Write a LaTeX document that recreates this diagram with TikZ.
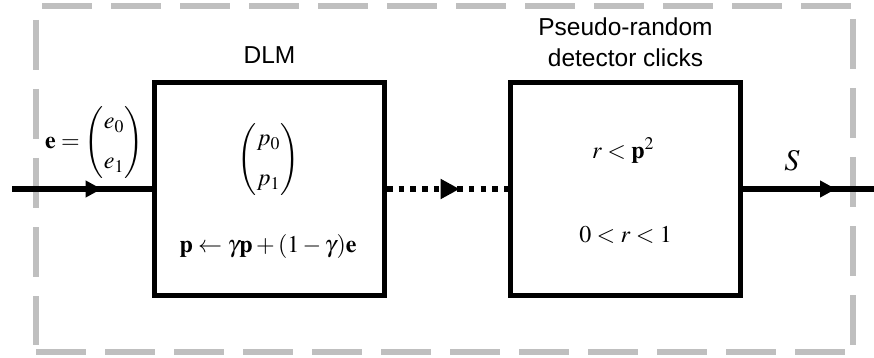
\documentclass[tikz,border=0pt]{standalone}
\usepackage{amsmath}
\usepackage{mathptmx}
\usepackage[no-math]{fontspec}
\setsansfont{Liberation Sans}
\usetikzlibrary{arrows.meta,decorations.markings}

\begin{document}
\begin{tikzpicture}[
    x=1pt,
    y=-1pt,
    block/.style={
      draw,
      line width=5pt,
      minimum width=230pt,
      minimum height=212pt
    },
    title/.style={
      font=\sffamily\fontsize{24.5}{31}\selectfont,
      align=center
    },
    maths/.style={
      font=\fontsize{24}{29}\selectfont,
      inner sep=0pt
    },
    wire/.style={
      line width=5.5pt
    },
    arrowat/.style 2 args={
      postaction={decorate},
      decoration={markings,
        mark=at position #1 with {\arrow{Triangle[length=#2pt,width=#2pt]}}}
    },
    frame/.style={
      draw=black!25,
      line width=6pt,
      dash pattern=on 50pt off 19pt
    }
  ]
    \useasboundingbox (0, 0) rectangle (874, 358);

    % grey dashed frame
    \draw[frame] (42, 6) -- (852, 6);
    \draw[frame] (853, 19) -- (853, 345);
    \draw[frame] (36, 352) -- (846, 352);
    \draw[frame] (36, 20) -- (36, 345);

    \node[block] (dlm) at (269.5, 189) {};
    \node[block] (clicks) at (625.5, 189) {};

    \node[title, anchor=base] (dlmlbl) at (269.5, 64) {DLM};
    \node[title, anchor=base] (clickslbl) at (625.5, 67) {Pseudo-random\\detector clicks};

    \node[maths] (evec) at (94, 143) {$\mathbf{e}=\begin{pmatrix} e_0\\[11pt] e_1\end{pmatrix}$};
    \node[maths] (pvec) at (268.5, 160) {$\begin{pmatrix} p_0\\[11pt] p_1\end{pmatrix}$};
    \node[maths, anchor=base] (update) at (268, 252) {$\mathbf{p}\leftarrow\gamma\mathbf{p}+(1-\gamma)\mathbf{e}$};
    \node[maths, anchor=base] (rule) at (623, 158) {$r<\mathbf{p}^2$};
    \node[maths, anchor=base] (range) at (625.5, 242) {$0<r<1$};
    \node[maths, font=\fontsize{30}{36}\selectfont] (s) at (792, 161) {$S$};

    \coordinate (in) at (12, 189);
    \coordinate (out) at (874, 189);

    \draw[wire, arrowat={0.64}{16}] (in) -- (dlm.west);
    \draw[wire, dash pattern=on 5.5pt off 6.2pt, arrowat={0.6}{19}] (dlm.east) -- (clicks.west);
    \draw[wire, arrowat={0.71}{16}] (clicks.east) -- (out);
  \end{tikzpicture}
\end{document}
